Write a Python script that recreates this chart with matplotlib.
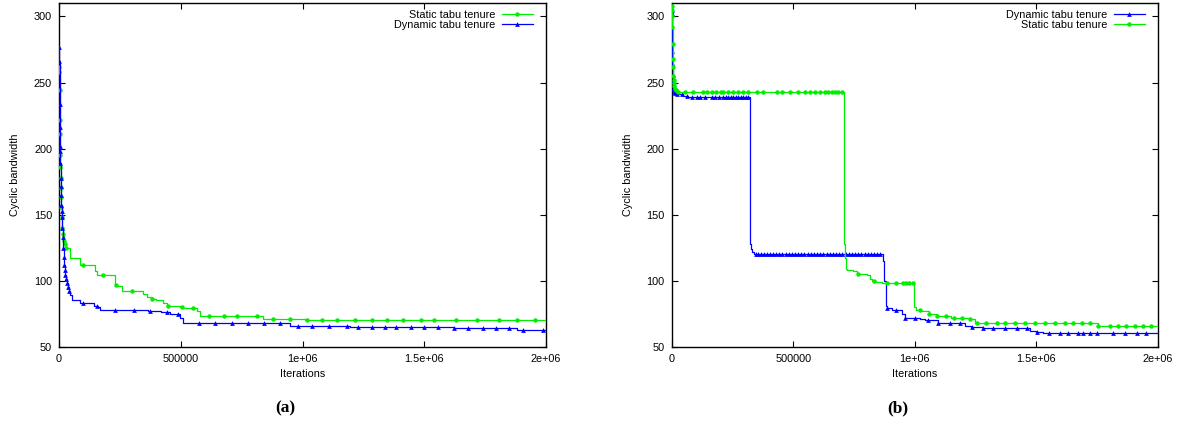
import numpy as np
import matplotlib
matplotlib.use("Agg")
import matplotlib.pyplot as plt
from matplotlib.lines import Line2D

plt.rcParams['font.family'] = ['Liberation Sans', 'DejaVu Sans']
FS = 7.8

GREEN = '#00ee00'
BLUE = '#0000ff'

# ---- panel (a) ----
a_static_x = [0, 1000, 2000, 3000, 4000, 5000, 6000, 7000, 8000, 9000, 10000, 12000, 14000,
              17000, 20000, 25000, 30000, 45000, 86000, 148000, 155000, 230000, 240000, 257000,
              346000, 360000, 381000, 400000, 428000, 445000, 497000, 510000, 565000, 579000,
              839000, 1010000, 2000000]
a_static_y = [262, 258, 244, 222, 211, 195, 186, 178, 170, 163, 156, 148, 140,
              135, 130, 128, 125, 117, 112, 107, 104, 97, 96, 92,
              90, 88, 86, 85, 83, 81, 80, 79, 77, 73,
              71, 70, 70]
a_static_marks = [0, 1000, 2000, 3000, 4000, 5000, 6000, 7000, 8000, 9000, 10000, 12000, 14000,
                  17000, 20000, 25000, 30000, 100000, 179000, 234000, 298000, 381000, 449000,
                  504000, 549000, 617000, 677000, 732000, 814000, 880000, 949000, 1017000,
                  1079000, 1143000, 1216000, 1284000, 1346000, 1412000, 1485000, 1540000,
                  1630000, 1718000, 1807000, 1882000, 1955000]

a_dyn_x = [0, 1000, 2000, 3000, 4000, 5000, 6000, 7000, 8000, 9000, 10000, 11000, 12000, 13000,
           15000, 17000, 19000, 21000, 23000, 25000, 28000, 31000, 35000, 40000, 45000, 52000,
           86000, 145000, 160000, 168000, 364000, 420000, 456000, 497000, 510000, 949000,
           1195000, 1620000, 1880000, 2000000]
a_dyn_y = [277, 266, 234, 216, 202, 198, 189, 178, 172, 165, 157, 153, 148, 140,
           133, 125, 118, 112, 108, 104, 101, 98, 95, 92, 89, 85,
           83, 81, 80, 78, 77, 76, 75, 72, 68, 66,
           65, 64, 63, 63]
a_dyn_marks = [0, 1000, 2000, 3000, 4000, 5000, 6000, 7000, 8000, 9000, 10000, 11000, 12000,
               13000, 15000, 17000, 19000, 21000, 23000, 25000, 28000, 31000, 35000, 40000,
               97000, 157000, 230000, 308000, 374000, 442000, 490000, 576000, 641000, 709000,
               777000, 843000, 908000, 980000, 1040000, 1109000, 1181000, 1229000, 1284000,
               1339000, 1384000, 1446000, 1500000, 1558000, 1622000, 1681000, 1739000,
               1795000, 1848000, 1904000, 1986000]

# ---- panel (b) ----
b_static_x = [0, 1000, 2000, 3000, 4000, 5000, 6000, 7000, 8000, 9000, 11000, 14000, 18000,
              25000, 709000, 710000, 712000, 715000, 720000, 747000, 761000, 802000, 815000,
              822000, 840000, 864000, 998000, 1003000, 1025000, 1060000, 1092000, 1150000,
              1227000, 1247000, 1754000, 2000000]
b_static_y = [308, 305, 300, 292, 279, 268, 262, 255, 252, 250, 247, 245, 244,
              243, 138, 128, 117, 109, 108, 107, 105, 104, 101,
              100, 99, 98, 80, 78, 77, 75, 73, 72,
              71, 68, 66, 66]
b_static_marks = [0, 1000, 2000, 3000, 4000, 5000, 6000, 7000, 8000, 9000, 11000, 14000, 18000,
                  25000, 55000, 89000, 130000, 146000, 164000, 182000, 201000, 212000, 233000,
                  253000, 274000, 292000, 315000, 349000, 377000, 432000, 452000, 487000,
                  521000, 548000, 569000, 589000, 610000, 630000, 644000, 658000, 672000,
                  685000, 699000, 765000, 832000, 887000, 922000, 950000, 964000, 977000,
                  991000, 1021000, 1060000, 1092000, 1128000, 1161000, 1193000, 1227000,
                  1254000, 1293000, 1337000, 1371000, 1412000, 1453000, 1494000, 1535000,
                  1576000, 1618000, 1652000, 1686000, 1720000, 1754000, 1803000, 1837000,
                  1868000, 1905000, 1940000, 1970000]

b_dyn_x = [0, 1000, 2000, 3000, 4000, 5000, 7000, 9000, 12000, 20000, 48000, 68000, 322000,
           326000, 332000, 340000, 868000, 874000, 880000, 884000, 905000, 946000, 960000,
           1020000, 1042000, 1096000, 1206000, 1230000, 1279000, 1474000, 1500000, 1528000,
           2000000]
b_dyn_y = [305, 303, 274, 265, 256, 251, 245, 243, 242, 241, 240, 239, 128,
           124, 122, 120, 115, 100, 81, 79, 78, 75, 72,
           71, 70, 68, 66, 65, 64, 62, 61, 60,
           60]
b_dyn_marks = [0, 1000, 2000, 3000, 4000, 5000, 7000, 9000, 12000, 20000, 41000, 64000, 82000,
               103000, 116000, 137000, 164000, 178000, 196000, 210000, 223000, 233000, 243000,
               253000, 264000, 274000, 284000, 294000, 304000, 315000, 345000, 356000, 368000,
               381000, 392000, 405000, 417000, 430000, 442000, 455000, 468000, 481000, 494000,
               507000, 520000, 533000, 546000, 559000, 572000, 585000, 598000, 611000, 624000,
               637000, 650000, 663000, 676000, 689000, 702000, 715000, 728000, 741000, 754000,
               767000, 780000, 793000, 806000, 819000, 832000, 845000, 858000, 887000, 922000,
               960000, 1001000, 1055000, 1096000, 1145000, 1186000, 1234000, 1282000, 1323000,
               1371000, 1419000, 1460000, 1501000, 1553000, 1597000, 1631000, 1672000, 1693000,
               1720000, 1748000, 1816000, 1864000, 1912000, 1951000]

xticks = [0, 500000, 1000000, 1500000, 2000000]
xticklabels = ['0', '500000', '1e+06', '1.5e+06', '2e+06']
yticks = [50, 100, 150, 200, 250, 300]


def step_lookup(xs, ys, mx):
    idx = np.searchsorted(np.asarray(xs), np.asarray(mx), side='right') - 1
    return np.asarray(ys)[idx]


def draw(ax, series):
    handles = []
    for xs, ys, marks, color, marker, ms, name in series:
        ax.plot(xs, ys, drawstyle='steps-post', color=color, lw=0.9, zorder=3)
        ax.plot(marks, step_lookup(xs, ys, marks), ls='none', marker=marker,
                color=color, ms=ms, mew=0, zorder=3)
        handles.append(Line2D([], [], color=color, lw=0.9, marker=marker, ms=ms, mew=0))
    ax.set_xlim(0, 2000000)
    ax.set_ylim(50, 310)
    ax.set_xticks(xticks)
    ax.set_xticklabels(xticklabels)
    ax.set_yticks(yticks)
    ax.tick_params(direction='in', top=True, right=True, length=4, width=0.8,
                   labelsize=FS, pad=5)
    for s in ax.spines.values():
        s.set_linewidth(1.0)
    ax.set_xlabel('Iterations', fontsize=FS, labelpad=4)
    ax.set_ylabel('Cyclic bandwidth', fontsize=FS, labelpad=10)
    ax.legend(handles, [s[-1] for s in series], loc='upper right', frameon=False,
              markerfirst=False, fontsize=FS, handlelength=2.9, handletextpad=0.6,
              labelspacing=0.0, borderpad=0, borderaxespad=0,
              bbox_to_anchor=(1 - 13 / 487, 1 - 7 / 344))


fig = plt.figure(figsize=(11.83, 4.24), dpi=100)
ax1 = fig.add_axes([0.0499, 0.1823, 0.4117, 0.81])
ax2 = fig.add_axes([0.5678, 0.1823, 0.4111, 0.81])

draw(ax1, [
    (a_static_x, a_static_y, a_static_marks, GREEN, 'o', 3.2, 'Static tabu tenure'),
    (a_dyn_x, a_dyn_y, a_dyn_marks, BLUE, '^', 3.4, 'Dynamic tabu tenure'),
])
draw(ax2, [
    (b_dyn_x, b_dyn_y, b_dyn_marks, BLUE, '^', 3.4, 'Dynamic tabu tenure'),
    (b_static_x, b_static_y, b_static_marks, GREEN, 'o', 3.2, 'Static tabu tenure'),
])

for lab, xc in (('(a)', 285), ('(b)', 898)):
    fig.text(xc / 1183, 1 - 408 / 424, lab, ha='center', va='center',
             family='Liberation Serif', fontweight='bold', fontsize=12.5)

fig.savefig('out.png', dpi=100)
